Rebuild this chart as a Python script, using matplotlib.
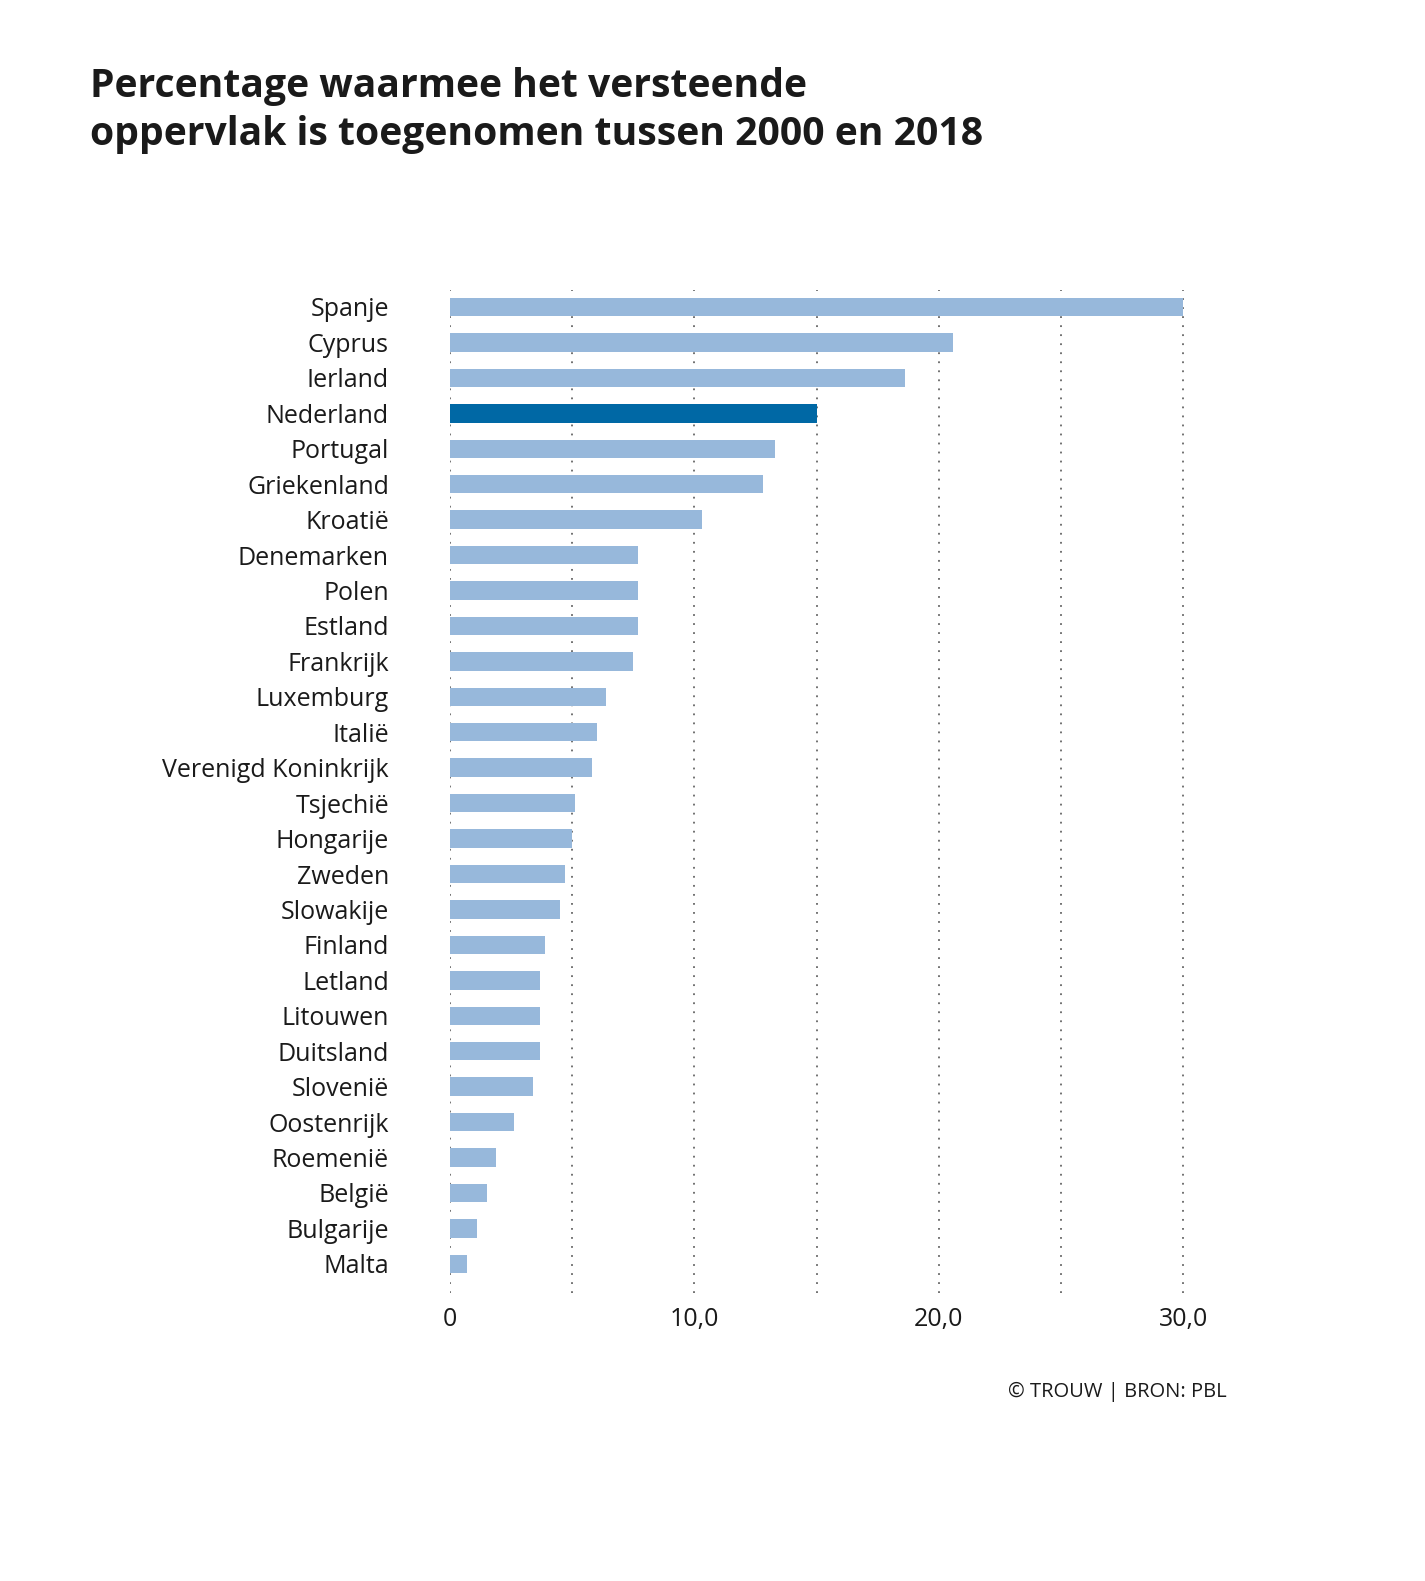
import matplotlib
matplotlib.use("Agg")
import matplotlib.pyplot as plt
from matplotlib.ticker import FixedLocator

countries = ["Spanje", "Cyprus", "Ierland", "Nederland", "Portugal", "Griekenland",
             "Kroatië", "Denemarken", "Polen", "Estland", "Frankrijk", "Luxemburg",
             "Italië", "Verenigd Koninkrijk", "Tsjechië", "Hongarije", "Zweden",
             "Slowakije", "Finland", "Letland", "Litouwen", "Duitsland", "Slovenië",
             "Oostenrijk", "Roemenië", "België", "Bulgarije", "Malta"]
values = [30.0, 20.6, 18.6, 15.0, 13.3, 12.8, 10.3, 7.7, 7.7, 7.7, 7.5, 6.4,
          6.0, 5.8, 5.1, 5.0, 4.7, 4.5, 3.9, 3.7, 3.7, 3.7, 3.4, 2.6, 1.9, 1.5, 1.1, 0.7]
highlight = "Nederland"
xticks = [0, 10, 20, 30]
xticklabels = ["0", "10,0", "20,0", "30,0"]
gridlines = [0, 5, 10, 15, 20, 25, 30]

LIGHT = "#97b8db"
DARK = "#0068a5"
FONT = ["Open Sans", "DejaVu Sans"]
plt.rcParams["font.family"] = FONT

fig = plt.figure(figsize=(14.25, 15.81), dpi=100)
ax = fig.add_axes([0.3158, 0.1822, 0.523, 0.6344])

n = len(countries)
ypos = [n - 1 - i for i in range(n)]
colors = [DARK if c == highlight else LIGHT for c in countries]
ax.barh(ypos, values, height=0.52, color=colors, zorder=2)

for g in gridlines:
    ax.axvline(g, color="#666666", lw=1.3, ls=(0, (1, 4)), zorder=1)

ax.set_xlim(0, 30.5)
ax.set_ylim(-0.82, n - 1 + 0.48)
ax.set_yticks(ypos)
ax.set_yticklabels(countries, fontsize=18, color="#1a1a1a")
ax.xaxis.set_major_locator(FixedLocator(xticks))
ax.set_xticklabels(xticklabels, fontsize=18, color="#1a1a1a")
ax.tick_params(axis="y", length=0, pad=44)
ax.tick_params(axis="x", length=0, pad=10)
for s in ax.spines.values():
    s.set_visible(False)

title_lines = ["Percentage waarmee het versteende",
               "oppervlak is toegenomen tussen 2000 en 2018"]
for line, ypx in zip(title_lines, [87, 134]):
    fig.text(90 / 1425, 1 - ypx / 1581, line, fontsize=28.2, fontweight="bold",
             color="#1a1a1a", va="center", ha="left")
fig.text(1227 / 1425, 1 - 1392 / 1581, "© TROUW | BRON: PBL", fontsize=14.5,
         color="#1a1a1a", ha="right", va="center")

fig.savefig("out.png", dpi=100, facecolor="white")
